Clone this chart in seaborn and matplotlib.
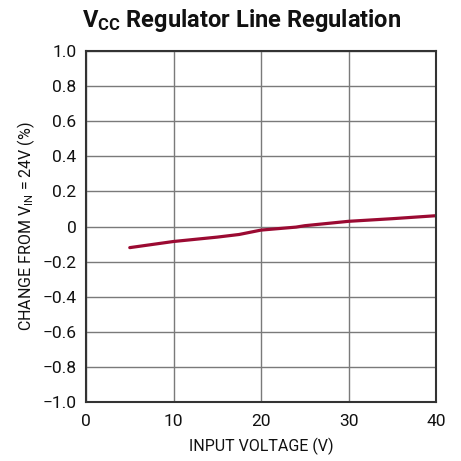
import numpy as np
import pandas as pd
import matplotlib.pyplot as plt
import seaborn as sns

# данные
input_voltage = [5, 10, 15, 17.5, 20, 24, 25, 30, 35, 40]
change_pct = [-0.12, -0.085, -0.06, -0.045, -0.02, -0.003, 0.005, 0.03, 0.045, 0.062]

x_ticks = [0, 10, 20, 30, 40]
y_ticks = [-1.0, -0.8, -0.6, -0.4, -0.2, 0, 0.2, 0.4, 0.6, 0.8, 1.0]
y_tick_labels = ['\u22121.0', '\u22120.8', '\u22120.6', '\u22120.4', '\u22120.2', '0',
                 '0.2', '0.4', '0.6', '0.8', '1.0']

sns.set_style('white')
plt.rcParams['font.family'] = ['Roboto', 'DejaVu Sans']
plt.rcParams['mathtext.default'] = 'regular'

df = pd.DataFrame({'vin': input_voltage, 'change': change_pct})

fig = plt.figure(figsize=(4.61, 4.61), dpi=100)
ax = fig.add_axes([0.1866, 0.128, 0.7592, 0.761])

sns.lineplot(data=df, x='vin', y='change', ax=ax, color='#9b0a32', linewidth=2.3)

ax.set_xlim(0, 40)
ax.set_ylim(-1.0, 1.0)
ax.set_xticks(x_ticks)
ax.set_yticks(y_ticks)
ax.set_yticklabels(y_tick_labels)
ax.tick_params(length=0, labelsize=12.5, colors='#111111')
ax.tick_params(axis='x', pad=9)
ax.tick_params(axis='y', pad=7)
ax.grid(True, color='#7a7a7a', linewidth=1.0)
for s in ax.spines.values():
    s.set_color('#333333')
    s.set_linewidth(1.5)

ax.set_xlabel('INPUT VOLTAGE (V)', fontsize=11.5, color='#111111', labelpad=6)
ax.set_ylabel('CHANGE FROM V$_{IN}$ = 24V (%)', fontsize=11.5, color='#111111', labelpad=4)
fig.suptitle('V$_{CC}$ Regulator Line Regulation', fontsize=17, fontweight='bold',
             x=0.525, y=0.985, color='#111111')

fig.savefig('out.png', dpi=100)
